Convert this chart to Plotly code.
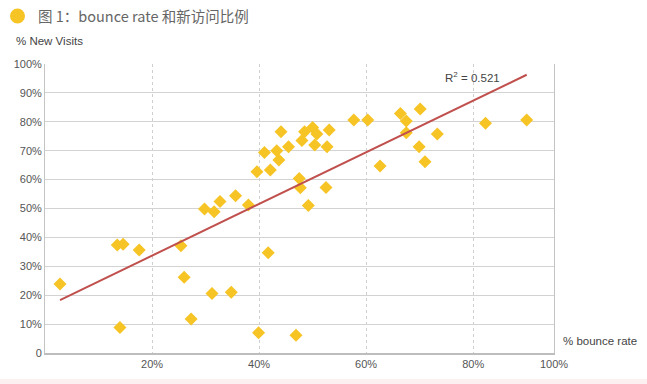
import numpy as np
import plotly.graph_objects as go

# % bounce rate (x) and % new visits (y)
bounce_rate = [2.8, 13.5, 14.6, 17.6, 25.4, 26.0, 31.2, 34.8, 27.3, 14.0, 39.9, 46.9, 41.7,
               29.8, 31.6, 32.7, 35.6, 38.0, 39.6, 42.1, 41.0, 43.3, 43.7, 44.1, 45.5,
               47.5, 47.7, 49.2, 48.0, 48.5, 50.0, 50.8, 50.4, 52.7, 53.1, 52.5, 57.7,
               60.3, 62.6, 66.4, 70.1, 67.5, 67.5, 73.3, 69.9, 71.0, 82.3, 90.0]
new_visits = [23.9, 37.4, 37.6, 35.6, 37.1, 26.2, 20.6, 21.0, 11.8, 8.8, 7.0, 6.1, 34.7,
              49.8, 48.9, 52.4, 54.4, 51.2, 62.7, 63.3, 69.4, 70.0, 66.8, 76.6, 71.4,
              60.4, 57.2, 51.0, 73.5, 76.6, 78.0, 75.8, 72.0, 71.4, 77.2, 57.3, 80.6,
              80.6, 64.7, 82.9, 84.4, 80.3, 76.2, 75.8, 71.4, 66.2, 79.5, 80.6]

x_tick_vals = [20, 40, 60, 80, 95.1]
x_tick_text = ["20%", "40%", "60%", "80%", "100%"]
y_tick_vals = [0, 10, 20, 30, 40, 50, 60, 70, 80, 90, 100]
y_tick_text = ["0", "10%", "20%", "30%", "40%", "50%", "60%", "70%", "80%", "90%", "100%"]

title_text = "图 1：bounce rate 和新访问比例"
y_title = "% New Visits"
x_title = "% bounce rate"
r2_text = "R<sup>2</sup> = 0.521"

xa = np.array(bounce_rate)
ya = np.array(new_visits)
slope, intercept = np.polyfit(xa, ya, 1)
trend_x = [xa.min(), xa.max()]
trend_y = [slope * v + intercept for v in trend_x]

W, H = 647, 384
ML, MR, MT, MB = 45, 93, 64, 31
PW, PH = W - ML - MR, H - MT - MB

def px(xpix):
    return (xpix - ML) / PW

def py(ypix):
    return (H - MB - ypix) / PH

tick_font = dict(family="Liberation Sans, Arial, sans-serif", size=11, color="#555555")

fig = go.Figure()
fig.add_trace(go.Scatter(
    x=bounce_rate, y=new_visits, mode="markers",
    marker=dict(symbol="diamond", size=10, color="#F6C425", line=dict(width=0)),
    showlegend=False, hoverinfo="x+y"))
fig.add_trace(go.Scatter(
    x=trend_x, y=trend_y, mode="lines",
    line=dict(color="#C0504D", width=2), showlegend=False, hoverinfo="skip"))

fig.update_layout(
    width=W, height=H, autosize=False,
    margin=dict(l=ML, r=MR, t=MT, b=MB, pad=0),
    paper_bgcolor="white", plot_bgcolor="white",
    xaxis=dict(range=[0, 95.1], tickvals=x_tick_vals, ticktext=x_tick_text,
               showgrid=True, gridcolor="#cfcfcf", griddash="dot", gridwidth=1,
               showline=True, linecolor="#bdbdbd", linewidth=2,
               ticks="", tickfont=tick_font, zeroline=False, fixedrange=True),
    yaxis=dict(range=[0, 100], tickvals=y_tick_vals, ticktext=y_tick_text,
               showgrid=True, gridcolor="#d3d3d3", gridwidth=1,
               showline=True, linecolor="#c4c4c4", linewidth=1, mirror=True,
               ticks="", tickfont=tick_font, zeroline=False, fixedrange=True),
    font=dict(family="Liberation Sans, Arial, sans-serif"),
    shapes=[
        dict(type="circle", xref="paper", yref="paper",
             x0=px(10), x1=px(25), y0=py(23.5), y1=py(8.5),
             fillcolor="#F6C425", line=dict(width=0)),
        dict(type="rect", xref="paper", yref="paper",
             x0=px(0), x1=px(W), y0=py(H), y1=py(379),
             fillcolor="#FDF0F0", line=dict(width=0), layer="below"),
    ],
    annotations=[
        dict(text=title_text, xref="paper", yref="paper", x=px(36), y=py(16),
             xanchor="left", yanchor="middle", showarrow=False,
             font=dict(family="Noto Sans CJK SC, sans-serif", size=14.5, color="#666666")),
        dict(text=y_title, xref="paper", yref="paper", x=px(14), y=py(41),
             xanchor="left", yanchor="middle", showarrow=False,
             font=dict(family="Liberation Sans, Arial, sans-serif", size=11.5, color="#444444")),
        dict(text=x_title, xref="paper", yref="paper", x=px(561), y=py(341),
             xanchor="left", yanchor="middle", showarrow=False,
             font=dict(family="Liberation Sans, Arial, sans-serif", size=11.5, color="#444444")),
        dict(text=r2_text, xref="paper", yref="paper", x=px(443), y=py(77),
             xanchor="left", yanchor="middle", showarrow=False,
             font=dict(family="Liberation Sans, Arial, sans-serif", size=11.5, color="#444444")),
    ],
)

fig.write_html("out.html", config={"displayModeBar": False},
               post_script="document.body.style.margin='0px';document.body.style.padding='0px';")
